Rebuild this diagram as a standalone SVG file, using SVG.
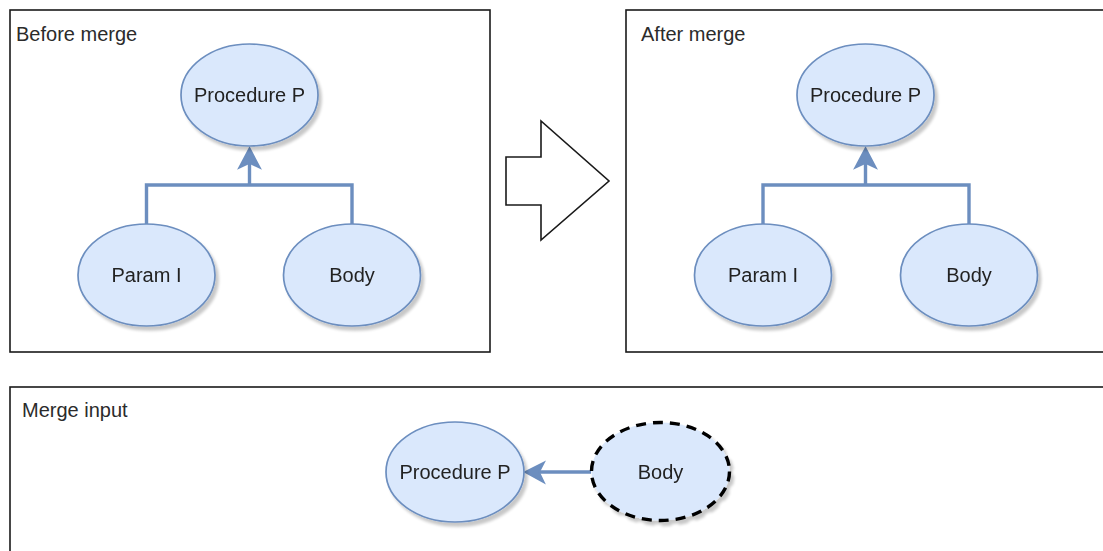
<svg xmlns="http://www.w3.org/2000/svg" width="1103" height="551" viewBox="0 0 1103 551">
  <style>
    .frame { fill: #ffffff; stroke: #1a1a1a; stroke-width: 1.6; }
    .title { font-family: "Liberation Sans", Arial, sans-serif; font-size: 20px; fill: #2b2b2b; }
    .node { fill: #dae8fc; stroke: #6c8ebf; stroke-width: 1.7; }
    .node-dashed { fill: #dae8fc; stroke: #000000; stroke-width: 3.4; stroke-dasharray: 10 7; }
    .label { font-family: "Liberation Sans", Arial, sans-serif; font-size: 20px; fill: #222222; text-anchor: middle; }
    .edge { fill: none; stroke: #6c8ebf; stroke-width: 3.4; }
    .head { fill: #6c8ebf; stroke: #6c8ebf; stroke-width: 1.7; stroke-linejoin: miter; }
  </style>
  <defs>
    <filter id="shadow" x="-20%" y="-20%" width="150%" height="150%">
      <feGaussianBlur in="SourceAlpha" stdDeviation="1.5"/>
      <feOffset dx="3" dy="4" result="off"/>
      <feComponentTransfer><feFuncA type="linear" slope="0.22"/></feComponentTransfer>
      <feMerge><feMergeNode/><feMergeNode in="SourceGraphic"/></feMerge>
    </filter>
  </defs>

  <rect width="1103" height="551" fill="#ffffff"/>

  <!-- frames -->
  <g id="frame-before">
    <rect class="frame" x="10" y="10" width="480" height="342"/>
    <text class="title" x="16" y="41">Before merge</text>
  </g>
  <g id="frame-after">
    <rect class="frame" x="626" y="10" width="490" height="342"/>
    <text class="title" x="641" y="41">After merge</text>
  </g>
  <g id="frame-input">
    <rect class="frame" x="10" y="387" width="1110" height="180"/>
    <text class="title" x="22" y="417">Merge input</text>
  </g>

  <!-- big transition arrow -->
  <g id="merge-arrow">
    <polygon points="506,157 541,157 541,121 609,181 541,240 541,205 506,205" fill="#ffffff" stroke="#1a1a1a" stroke-width="1.6" stroke-linejoin="miter"/>
  </g>

  <!-- connectors -->
  <g id="connectors">
    <polyline class="edge" points="146.5,224 146.5,185 352,185 352,224"/>
    <line class="edge" x1="249.5" y1="185" x2="249.5" y2="163"/>
    <polygon class="head" points="249.5,148 260,168 249.5,163 239,168"/>

    <polyline class="edge" points="763,224 763,185 969,185 969,224"/>
    <line class="edge" x1="865.5" y1="185" x2="865.5" y2="163"/>
    <polygon class="head" points="865.5,148 876,168 865.5,163 855,168"/>

    <line class="edge" x1="591" y1="472" x2="539" y2="472"/>
    <polygon class="head" points="525,472 544,462.5 539,472 544,482.5"/>
  </g>

  <!-- before merge -->
  <g id="before-procedure" filter="url(#shadow)">
    <ellipse class="node" cx="249.5" cy="95" rx="68.5" ry="51"/>
    <text class="label" x="249.5" y="102">Procedure P</text>
  </g>
  <g id="before-param" filter="url(#shadow)">
    <ellipse class="node" cx="146.5" cy="275" rx="68.5" ry="51"/>
    <text class="label" x="146.5" y="282">Param I</text>
  </g>
  <g id="before-body" filter="url(#shadow)">
    <ellipse class="node" cx="352" cy="275" rx="68.5" ry="51"/>
    <text class="label" x="352" y="282">Body</text>
  </g>

  <!-- after merge -->
  <g id="after-procedure" filter="url(#shadow)">
    <ellipse class="node" cx="865.5" cy="95" rx="68.5" ry="51"/>
    <text class="label" x="865.5" y="102">Procedure P</text>
  </g>
  <g id="after-param" filter="url(#shadow)">
    <ellipse class="node" cx="763" cy="275" rx="68.5" ry="51"/>
    <text class="label" x="763" y="282">Param I</text>
  </g>
  <g id="after-body" filter="url(#shadow)">
    <ellipse class="node" cx="969" cy="275" rx="68.5" ry="51"/>
    <text class="label" x="969" y="282">Body</text>
  </g>

  <!-- merge input -->
  <g id="input-procedure" filter="url(#shadow)">
    <ellipse class="node" cx="455" cy="472" rx="69" ry="50"/>
    <text class="label" x="455" y="479">Procedure P</text>
  </g>
  <g id="input-body" filter="url(#shadow)">
    <ellipse class="node-dashed" cx="660.5" cy="471.5" rx="69" ry="49"/>
    <text class="label" x="660.5" y="479">Body</text>
  </g>
</svg>
